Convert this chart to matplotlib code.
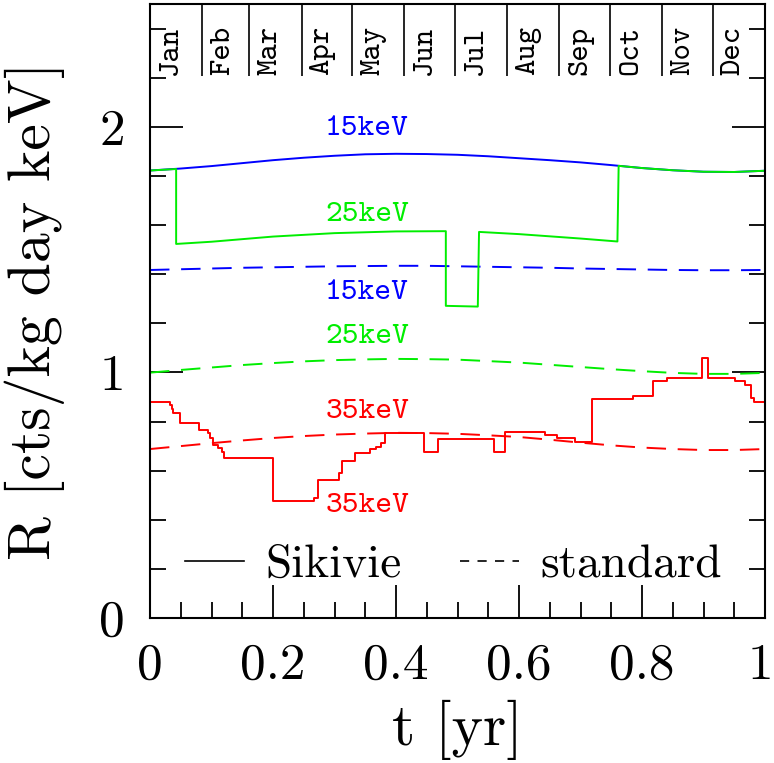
import matplotlib
matplotlib.use("Agg")
import matplotlib.pyplot as plt
import matplotlib.transforms as mtransforms
from matplotlib.lines import Line2D
from matplotlib.ticker import MultipleLocator, FixedLocator

plt.rcParams['font.family'] = 'cmr10'
plt.rcParams['axes.unicode_minus'] = False
plt.rcParams['mathtext.fontset'] = 'cm'

# ---- data ----
months = ['Jan', 'Feb', 'Mar', 'Apr', 'May', 'Jun',
          'Jul', 'Aug', 'Sep', 'Oct', 'Nov', 'Dec']
month_start_day = [0, 31, 59, 90, 120, 151, 181, 212, 243, 273, 304, 334]

t_smooth = [0.0, 0.05, 0.1, 0.15, 0.2, 0.25, 0.3, 0.35, 0.4, 0.45, 0.5,
            0.55, 0.6, 0.65, 0.7, 0.75, 0.8, 0.85, 0.9, 0.95, 1.0]

# standard halo model (dashed)
std_15 = [1.417, 1.420, 1.423, 1.426, 1.428, 1.430, 1.432, 1.433, 1.434, 1.434, 1.432,
          1.430, 1.428, 1.426, 1.423, 1.421, 1.419, 1.417, 1.416, 1.416, 1.417]
std_25 = [0.999, 1.010, 1.020, 1.030, 1.038, 1.045, 1.050, 1.053, 1.055, 1.054, 1.052,
          1.046, 1.040, 1.031, 1.022, 1.013, 1.005, 0.998, 0.994, 0.994, 0.998]
std_35 = [0.688, 0.700, 0.712, 0.723, 0.733, 0.741, 0.747, 0.751, 0.754, 0.753, 0.750,
          0.744, 0.737, 0.726, 0.714, 0.703, 0.694, 0.688, 0.684, 0.684, 0.688]

# Sikivie caustic model (solid)
sik_15 = [1.822, 1.830, 1.840, 1.852, 1.864, 1.874, 1.882, 1.888, 1.890, 1.889, 1.886,
          1.880, 1.872, 1.864, 1.855, 1.844, 1.832, 1.823, 1.817, 1.816, 1.821]

sik_25_t = [0.0, 0.0425, 0.0425, 0.1, 0.2, 0.3, 0.4, 0.481, 0.481, 0.533, 0.535,
            0.6, 0.7, 0.760, 0.762, 0.8, 0.85, 0.9, 0.95, 1.0]
sik_25 = [1.822, 1.828, 1.523, 1.532, 1.553, 1.567, 1.574, 1.575, 1.271, 1.268, 1.572,
          1.563, 1.545, 1.533, 1.841, 1.832, 1.823, 1.817, 1.816, 1.821]

sik_35_t = [0.0, 0.0325, 0.035, 0.038, 0.048, 0.080, 0.095, 0.0976, 0.102, 0.111,
            0.1165, 0.120, 0.1995, 0.2667, 0.2737, 0.307, 0.312, 0.333, 0.357, 0.367,
            0.375, 0.382, 0.4455, 0.469, 0.560, 0.577, 0.642, 0.661, 0.691, 0.718,
            0.786, 0.818, 0.840, 0.897, 0.908, 0.951, 0.967, 0.978, 0.982, 1.0]
sik_35 = [0.881, 0.868, 0.850, 0.836, 0.793, 0.766, 0.752, 0.732, 0.705, 0.691,
          0.677, 0.653, 0.478, 0.488, 0.562, 0.592, 0.640, 0.671, 0.687, 0.698,
          0.714, 0.752, 0.674, 0.728, 0.674, 0.756, 0.745, 0.732, 0.718, 0.892,
          0.902, 0.967, 0.976, 1.058, 0.976, 0.963, 0.949, 0.895, 0.881, 0.881]

curve_labels = [('15keV', 0.353, 1.99, 'blue'),
                ('25keV', 0.353, 1.64, 'green'),
                ('15keV', 0.353, 1.325, 'blue'),
                ('25keV', 0.353, 1.145, 'green'),
                ('35keV', 0.353, 0.84, 'red'),
                ('35keV', 0.353, 0.455, 'red')]

xtick_vals = [0, 0.2, 0.4, 0.6, 0.8, 1.0]
xtick_labels = ['0', '0.2', '0.4', '0.6', '0.8', '1']
ytick_vals = [0, 1, 2]
ytick_labels = ['0', '1', '2']

colors = {'blue': '#0000ff', 'green': '#00ee00', 'red': '#ff0000'}
dash = (0, (10.0, 6.0))
lw = 1.4

fig = plt.figure(figsize=(7.74, 7.63), dpi=100)
ax = fig.add_axes([0.1938, 0.1900, 0.7946, 0.8048])

ax.plot(t_smooth, std_15, color=colors['blue'], lw=lw, linestyle=dash)
ax.plot(t_smooth, std_25, color=colors['green'], lw=lw, linestyle=dash)
ax.plot(t_smooth, std_35, color=colors['red'], lw=lw, linestyle=dash)
ax.plot(t_smooth, sik_15, color=colors['blue'], lw=lw)
ax.plot(sik_25_t, sik_25, color=colors['green'], lw=lw)
ax.step(sik_35_t, sik_35, where='post', color=colors['red'], lw=lw)

for txt, x, y, c in curve_labels:
    ax.text(x, y, txt, color=colors[c], fontsize=23, family='cmtt10',
            ha='center', va='center')

# month band along the top
month_t = [d / 365.0 for d in month_start_day]
ax.vlines(month_t[1:], 2.207, 2.5, color='black', lw=1.2)
for name, t0 in zip(months, month_t):
    ax.text(t0 + 0.034, 2.212, name, rotation=90, fontsize=22.5, family='cmtt10',
            ha='center', va='bottom')

ax.set_xlim(0, 1)
ax.set_ylim(0, 2.5)

ax.xaxis.set_major_locator(FixedLocator(xtick_vals))
ax.set_xticklabels(xtick_labels)
ax.xaxis.set_minor_locator(MultipleLocator(0.05))
ax.yaxis.set_major_locator(FixedLocator(ytick_vals))
ax.set_yticklabels(ytick_labels)
ax.yaxis.set_minor_locator(MultipleLocator(0.2))

ax.tick_params(which='both', direction='in', width=1.3, labelsize=37)
ax.tick_params(axis='x', which='both', top=False, bottom=True, pad=18)
ax.tick_params(axis='y', which='both', left=True, right=True, pad=18)
ax.tick_params(which='major', length=24)
ax.tick_params(which='minor', length=11.5)
for s in ax.spines.values():
    s.set_linewidth(1.5)

# keep the "1" at the right end inside the figure
last = ax.get_xticklabels()[-1]
last.set_transform(last.get_transform() +
                   mtransforms.ScaledTranslation(-5 / 100, 0, fig.dpi_scale_trans))

ax.set_xlabel('t [yr]', fontsize=43)
ax.set_ylabel('R [cts/kg day keV]', fontsize=43)
ax.xaxis.set_label_coords(0.5, -0.133)
ax.yaxis.set_label_coords(-0.138, 0.50)

handles = [Line2D([], [], color='black', lw=1.2),
           Line2D([], [], color='black', lw=1.2, linestyle=(0, (5.5, 5.0)))]
ax.legend(handles, ['Sikivie', 'standard'], loc='center', bbox_to_anchor=(0.4935, 0.086),
          ncol=2, frameon=False, fontsize=34, handlelength=1.25, handletextpad=0.45,
          columnspacing=1.25, borderpad=0, borderaxespad=0)

fig.savefig('out.png', dpi=100)
